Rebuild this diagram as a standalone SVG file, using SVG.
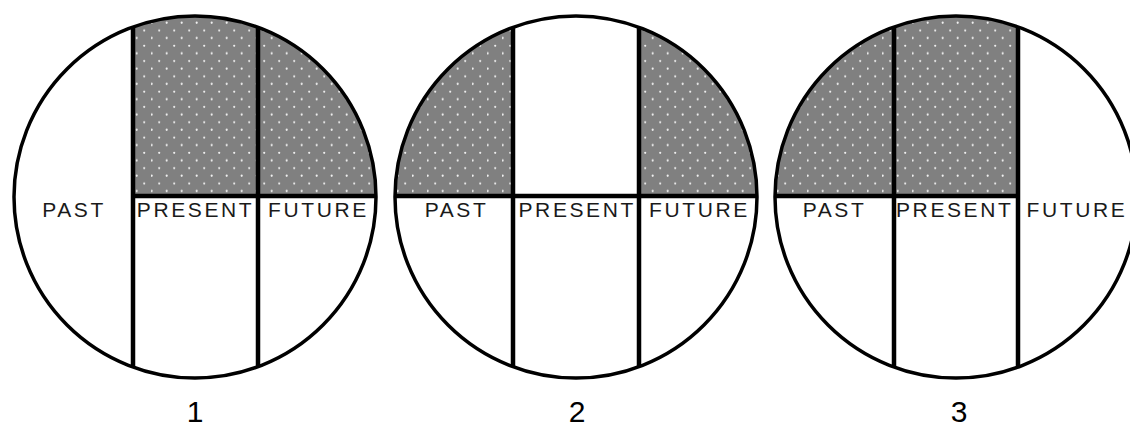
<svg xmlns="http://www.w3.org/2000/svg" width="1130" height="426" viewBox="0 0 1130 426">
<style>
.bg{fill:#ffffff}
.ring{fill:none;stroke:#000;stroke-width:3.5}
.div{stroke:#000;stroke-width:4.5;fill:none}
.shade{fill:url(#dots)}
.lbl{font-family:"Liberation Sans",Arial,sans-serif;font-size:21px;letter-spacing:2.6px;fill:#1a1a1a;text-anchor:middle}
.num{font-family:"Liberation Sans",Arial,sans-serif;font-size:30px;fill:#000;text-anchor:middle}
</style>
<defs>
<pattern id="dots" patternUnits="userSpaceOnUse" width="15" height="15.3" x="0" y="0">
<rect width="15" height="15.3" fill="#808080"/>
<circle cx="1.7" cy="9.3" r="1.1" fill="#f0f0f0"/>
<circle cx="9.2" cy="1.7" r="1.1" fill="#f0f0f0"/>
</pattern>
<clipPath id="disc" clipPathUnits="userSpaceOnUse">
<circle cx="0" cy="0" r="181"/>
</clipPath>
</defs>
<rect width="1130" height="426" fill="#fff"/>

<g id="circle1" transform="translate(195,197)">
<circle class="bg" r="181"/>
<g clip-path="url(#disc)">
<rect class="shade" x="-62" y="-200" width="260" height="199"/>
<line class="div" x1="-62" y1="-190" x2="-62" y2="190"/>
<line class="div" x1="63" y1="-190" x2="63" y2="190"/>
<line class="div" x1="-62" y1="-1" x2="190" y2="-1"/>
</g>
<circle class="ring" r="181"/>
<text class="lbl" x="-121" y="20">PAST</text>
<text class="lbl" x="0.5" y="20">PRESENT</text>
<text class="lbl" x="123.5" y="20">FUTURE</text>
<text class="num" x="0" y="225">1</text>
</g>

<g id="circle2" transform="translate(576,197)">
<circle class="bg" r="181"/>
<g clip-path="url(#disc)">
<rect class="shade" x="-200" y="-200" width="137" height="199"/>
<rect class="shade" x="63" y="-200" width="137" height="199"/>
<line class="div" x1="-63" y1="-190" x2="-63" y2="190"/>
<line class="div" x1="63" y1="-190" x2="63" y2="190"/>
<line class="div" x1="-190" y1="-1" x2="190" y2="-1"/>
</g>
<circle class="ring" r="181"/>
<text class="lbl" x="-119.5" y="20">PAST</text>
<text class="lbl" x="1.2" y="20">PRESENT</text>
<text class="lbl" x="123.5" y="20">FUTURE</text>
<text class="num" x="1" y="225">2</text>
</g>

<g id="circle3" transform="translate(956,197)">
<circle class="bg" r="181"/>
<g clip-path="url(#disc)">
<rect class="shade" x="-200" y="-200" width="262" height="199"/>
<line class="div" x1="-62" y1="-190" x2="-62" y2="190"/>
<line class="div" x1="62" y1="-190" x2="62" y2="190"/>
<line class="div" x1="-190" y1="-1" x2="62" y2="-1"/>
</g>
<circle class="ring" r="181"/>
<text class="lbl" x="-121.5" y="20">PAST</text>
<text class="lbl" x="-1.3" y="20">PRESENT</text>
<text class="lbl" x="121" y="20">FUTURE</text>
<text class="num" x="3" y="225">3</text>
</g>

<g id="connectors"></g>
</svg>
